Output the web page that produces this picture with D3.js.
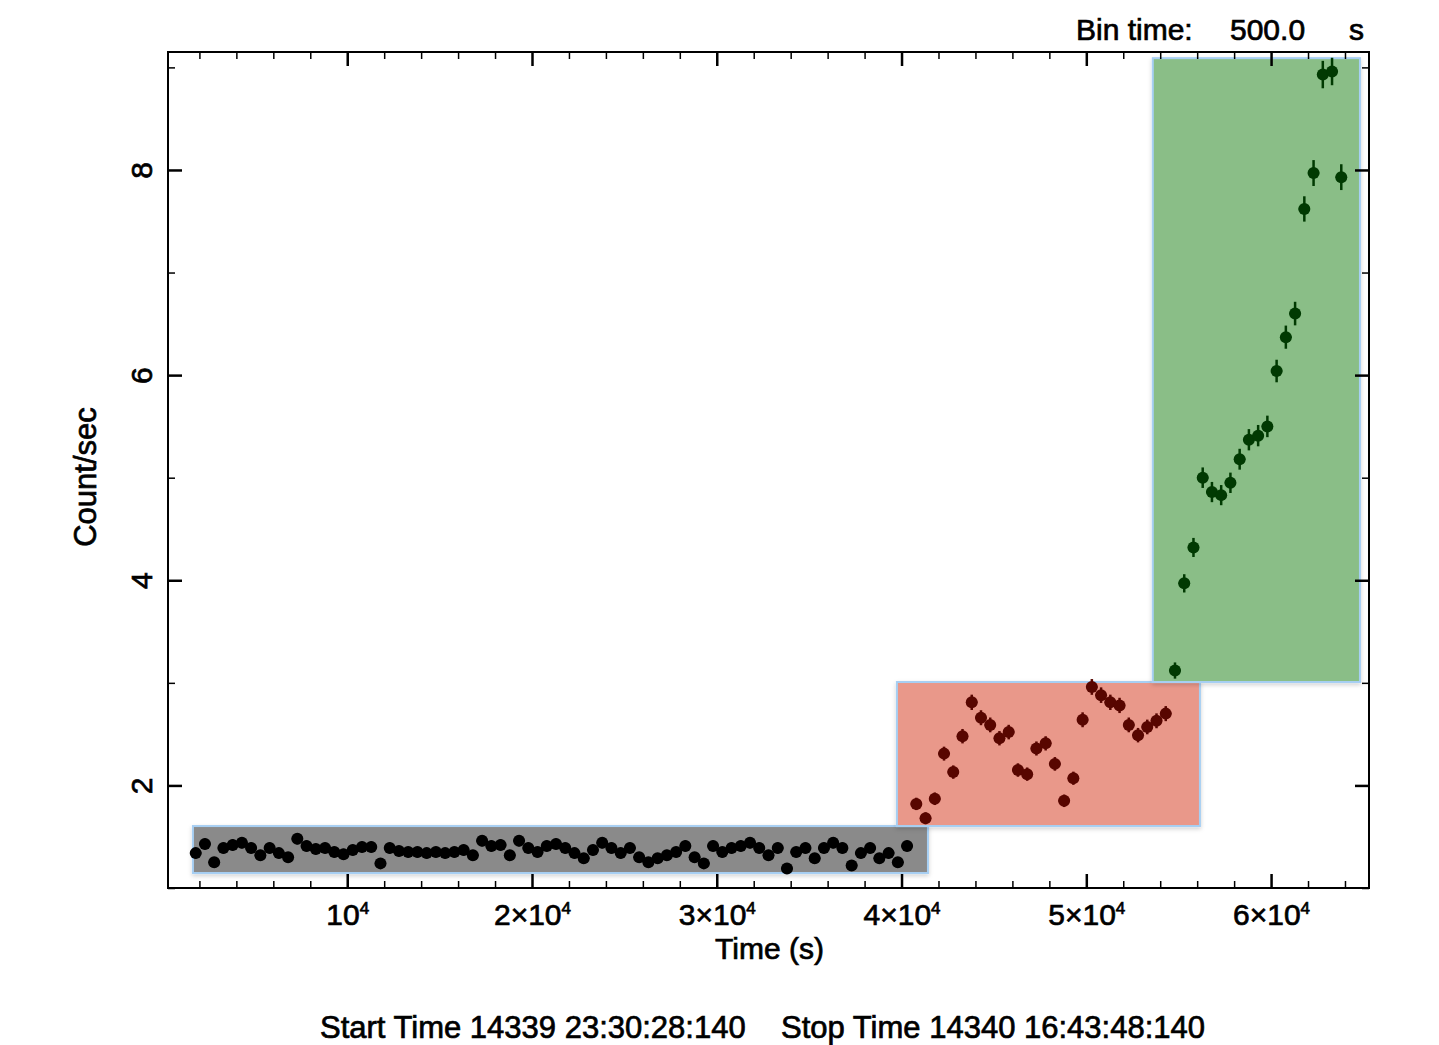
<!DOCTYPE html>
<html lang="en">
<head>
<meta charset="UTF-8">
<title>Light curve</title>
<script src="https://cdn.jsdelivr.net/npm/d3@7"></script>
<style>
  body { margin: 0; background: #fff; }
  svg { display: block; font-family: "Liberation Sans", Arial, sans-serif; }
  svg text { fill: #000; stroke: #000; stroke-width: 0.7px; }
</style>
</head>
<body>
<svg class="root"></svg>
<script>
// light curve, 500 s bins, three segments
const binTime = 500;

const grayStart = 1800;
const grayRates = [1.34, 1.43, 1.25, 1.39, 1.42, 1.44, 1.39, 1.32, 1.39, 1.34,
                   1.30, 1.48, 1.41, 1.38, 1.39, 1.35, 1.33, 1.37, 1.40, 1.40,
                   1.24, 1.39, 1.36, 1.35, 1.35, 1.34, 1.35, 1.34, 1.35, 1.37,
                   1.32, 1.46, 1.41, 1.42, 1.32, 1.46, 1.39, 1.35, 1.41, 1.43,
                   1.39, 1.34, 1.29, 1.37, 1.44, 1.39, 1.34, 1.39, 1.30, 1.25,
                   1.29, 1.32, 1.35, 1.41, 1.30, 1.24, 1.41, 1.35, 1.39,
                   1.41, 1.44, 1.39, 1.32, 1.39, 1.19, 1.35, 1.39, 1.29, 1.39,
                   1.44, 1.39, 1.22, 1.34, 1.39, 1.29, 1.34, 1.25, 1.41];

const redStart = 40800;
const redRates = [1.82, 1.68, 1.87, 2.31, 2.13, 2.48, 2.81, 2.66, 2.59, 2.46,
                  2.52, 2.15, 2.11, 2.36, 2.41, 2.21, 1.85, 2.07, 2.64, 2.96,
                  2.88, 2.81, 2.78, 2.59, 2.49, 2.57, 2.63, 2.70];

const greenStart = 54800;
const greenRates = [3.12, 3.97, 4.32, 5.00, 4.86, 4.83, 4.95, 5.18, 5.37, 5.41,
                    5.50, 6.04, 6.37, 6.60, 7.62, 7.97, 8.93, 8.96, 7.93];

// highlighted boxes
const boxT0 = [1650, 39750, 53600];
const boxT1 = [41430, 56150, 64810];
const boxLo = [1.146, 1.604, 3.008];
const boxHi = [1.604, 3.008, 9.09];
const boxFill = ["#8a8a8a", "#e9988a", "#8abe87"];

const xMajor = [10000, 20000, 30000, 40000, 50000, 60000];
const xMajorLabels = [["", "10", "4"], ["2×", "10", "4"], ["3×", "10", "4"],
                      ["4×", "10", "4"], ["5×", "10", "4"], ["6×", "10", "4"]];
const yMajor = [2, 4, 6, 8];

const width = 1439, height = 1045;
const margin = {top: 52, right: 70, bottom: 157, left: 168};
const font = 30;

const x = d3.scaleLinear().domain([300, 65300]).range([margin.left, width - margin.right]);
const y = d3.scaleLinear().domain([1, 9.15]).range([height - margin.bottom, margin.top]);

const xMinor = d3.range(2000, 65300, 2000).filter(v => v % 10000 !== 0);
const yMinor = d3.range(1, 9.15, 1).filter(v => v % 2 !== 0);

const svg = d3.select(".root").attr("width", width).attr("height", height);

const defs = svg.append("defs");
defs.append("filter").attr("id", "shadow")
    .attr("x", "-5%").attr("y", "-5%").attr("width", "110%").attr("height", "120%")
  .append("feDropShadow")
    .attr("dx", 0).attr("dy", 2).attr("stdDeviation", 2)
    .attr("flood-color", "#000").attr("flood-opacity", 0.18);

// boxes
svg.append("g").selectAll("rect")
  .data(boxFill)
  .join("rect")
    .attr("x", (d, i) => x(boxT0[i]))
    .attr("y", (d, i) => y(boxHi[i]))
    .attr("width", (d, i) => x(boxT1[i]) - x(boxT0[i]))
    .attr("height", (d, i) => y(boxLo[i]) - y(boxHi[i]))
    .attr("fill", d => d)
    .attr("stroke", "#a7cff3")
    .attr("stroke-width", 2)
    .attr("filter", "url(#shadow)");

// points
const segments = [
  {start: grayStart, rates: grayRates, color: "#000000"},
  {start: redStart, rates: redRates, color: "#580600"},
  {start: greenStart, rates: greenRates, color: "#013a02"}
];
const points = segments.flatMap(s => s.rates.map((r, i) => ({
  t: s.start + i * binTime, r, err: Math.sqrt(r / binTime), color: s.color
})));

const pts = svg.append("g").selectAll("g").data(points).join("g");
pts.append("line")
    .attr("x1", d => x(d.t)).attr("x2", d => x(d.t))
    .attr("y1", d => y(d.r - d.err)).attr("y2", d => y(d.r + d.err))
    .attr("stroke", d => d.color).attr("stroke-width", 2.5);
pts.append("line")
    .attr("x1", d => x(d.t - binTime / 2) - 1).attr("x2", d => x(d.t + binTime / 2) + 1)
    .attr("y1", d => y(d.r)).attr("y2", d => y(d.r))
    .attr("stroke", d => d.color).attr("stroke-width", 2.5);
pts.append("circle")
    .attr("cx", d => x(d.t)).attr("cy", d => y(d.r))
    .attr("r", 6)
    .attr("fill", d => d.color);

// frame
svg.append("rect")
    .attr("x", margin.left).attr("y", margin.top)
    .attr("width", width - margin.left - margin.right)
    .attr("height", height - margin.top - margin.bottom)
    .attr("fill", "none").attr("stroke", "#000").attr("stroke-width", 2);

const tickStyle = (g, w) => g
    .call(g => g.select(".domain").remove())
    .call(g => g.selectAll("line").attr("stroke", "#000").attr("stroke-width", w));

const bottom = height - margin.bottom, right = width - margin.right;

// minor ticks on all sides
svg.append("g").attr("transform", `translate(0,${bottom})`)
    .call(d3.axisBottom(x).tickValues(xMinor).tickSize(-7).tickFormat(""))
    .call(tickStyle, 1.5);
svg.append("g").attr("transform", `translate(0,${margin.top})`)
    .call(d3.axisTop(x).tickValues(xMinor).tickSize(-7).tickFormat(""))
    .call(tickStyle, 1.5);
svg.append("g").attr("transform", `translate(${margin.left},0)`)
    .call(d3.axisLeft(y).tickValues(yMinor).tickSize(-7).tickFormat(""))
    .call(tickStyle, 1.5);
svg.append("g").attr("transform", `translate(${right},0)`)
    .call(d3.axisRight(y).tickValues(yMinor).tickSize(-7).tickFormat(""))
    .call(tickStyle, 1.5);

// major ticks
svg.append("g").attr("transform", `translate(0,${margin.top})`)
    .call(d3.axisTop(x).tickValues(xMajor).tickSize(-14).tickFormat(""))
    .call(tickStyle, 2.5);
svg.append("g").attr("transform", `translate(${right},0)`)
    .call(d3.axisRight(y).tickValues(yMajor).tickSize(-14).tickFormat(""))
    .call(tickStyle, 2.5);

const xAxis = svg.append("g").attr("transform", `translate(0,${bottom})`)
    .call(d3.axisBottom(x).tickValues(xMajor).tickSize(-14).tickFormat(""))
    .call(tickStyle, 2.5);
xAxis.selectAll(".tick text").remove();
xAxis.selectAll(".tick").append("text")
    .attr("y", 37)
    .attr("text-anchor", "middle")
    .style("font-size", font + "px")
    .each(function(d, i) {
      const [pre, base, sup] = xMajorLabels[i];
      const t = d3.select(this);
      t.append("tspan").text(pre + base);
      t.append("tspan").attr("dy", -11).style("font-size", "17px").text(sup);
    });

const yAxis = svg.append("g").attr("transform", `translate(${margin.left},0)`)
    .call(d3.axisLeft(y).tickValues(yMajor).tickSize(-14))
    .call(tickStyle, 2.5);
yAxis.selectAll(".tick text")
    .attr("x", null).attr("dy", null)
    .attr("transform", "translate(-16,0) rotate(-90)")
    .attr("text-anchor", "middle")
    .style("font-size", font + "px")
    .style("font-family", "Liberation Sans, Arial, sans-serif");

// titles
svg.append("text")
    .attr("x", (margin.left + right) / 2 + 1).attr("y", 959)
    .attr("text-anchor", "middle").style("font-size", font + "px")
    .text("Time (s)");

svg.append("text")
    .attr("transform", `translate(96,${(margin.top + bottom) / 2 + 7}) rotate(-90)`)
    .attr("text-anchor", "middle").style("font-size", "31px")
    .text("Count/sec");

const binLabel = svg.append("g").style("font-size", font + "px");
binLabel.append("text").attr("x", 1076).attr("y", 40).text("Bin time:");
binLabel.append("text").attr("x", 1230).attr("y", 40).text("500.0");
binLabel.append("text").attr("x", 1349).attr("y", 40).text("s");

const footer = svg.append("g").style("font-size", "31px");
footer.append("text").attr("x", 320).attr("y", 1038).text("Start Time 14339 23:30:28:140");
footer.append("text").attr("x", 781).attr("y", 1038).text("Stop Time 14340 16:43:48:140");
</script>
</body>
</html>
